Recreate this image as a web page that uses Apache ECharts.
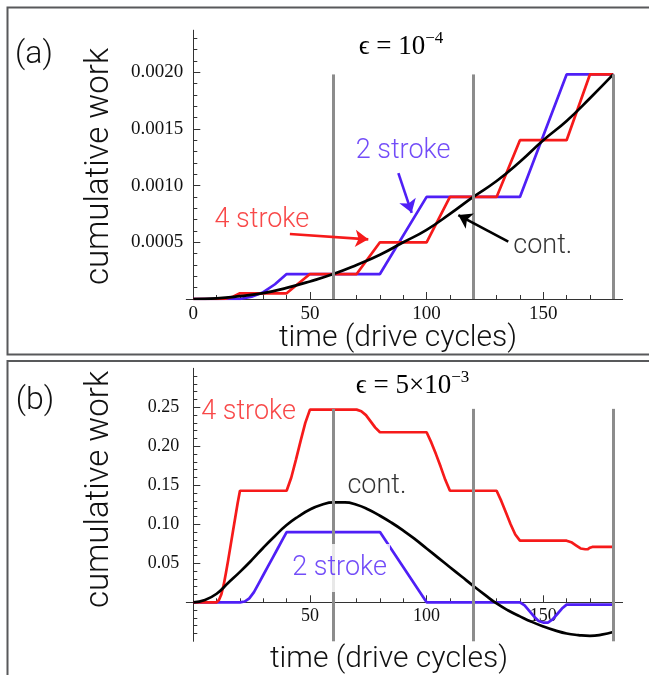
<!DOCTYPE html>
<html><head><meta charset="utf-8">
<script src="https://cdn.jsdelivr.net/npm/echarts@6/dist/echarts.min.js"></script>
<style>html,body{margin:0;padding:0;background:#fff}#c{width:649px;height:675px}</style>
</head><body><div id="c"></div>
<script>
// ---------- data ----------
const xMajorA = [0, 50, 100, 150];
const xMajorB = [50, 100, 150];
const xMinor = [10,20,30,40,60,70,80,90,110,120,130,140,160,170,180];
const yMajorA = [0.0005, 0.001, 0.0015, 0.002];
const yMinorA = [0.0001,0.0002,0.0003,0.0004,0.0006,0.0007,0.0008,0.0009,0.0011,0.0012,0.0013,0.0014,0.0016,0.0017,0.0018,0.0019,0.0021,0.0022,0.0023];
const yMajorB = [0.05, 0.1, 0.15, 0.2, 0.25];
const yMinorB = [-0.04,-0.03,-0.02,-0.01,0.01,0.02,0.03,0.04,0.06,0.07,0.08,0.09,0.11,0.12,0.13,0.14,0.16,0.17,0.18,0.19,0.21,0.22,0.23,0.24,0.26,0.27,0.28,0.29];
const strokeTimes = [60, 120, 180];

// panel (a): epsilon = 1e-4
const contA = [[0,0],[10,0.000006],[20,0.000025],[30,0.000052],[40,0.000098],[50,0.000155],[60,0.00022],[70,0.0003],[80,0.00039],[90,0.0005],[100,0.00061],[110,0.00075],[120,0.0009],[130,0.00104],[140,0.00121],[150,0.0014],[160,0.00157],[170,0.00177],[180,0.00198]];
const stroke2A = [[0,0],[20,0],[25,0.00002],[30,0.00006],[35,0.00013],[40,0.00022],[80,0.00022],[100,0.0009],[140,0.0009],[160,0.00198],[180,0.00198]];
const stroke4A = [[0,0],[10,0],[14,0.000004],[17,0.00002],[20,0.00005],[40,0.00005],[50,0.00022],[70,0.00022],[80,0.0005],[100,0.0005],[110,0.0009],[130,0.0009],[140,0.0014],[160,0.0014],[170,0.00198],[180,0.00198]];

// panel (b): epsilon = 5e-3
const contB = [[0,0],[5,0.003],[10,0.011],[15,0.025],[20,0.039],[25,0.054],[30,0.07],[35,0.085],[40,0.099],[45,0.11],[50,0.119],[55,0.125],[60,0.128],[65,0.128],[70,0.125],[75,0.119],[80,0.111],[85,0.102],[90,0.092],[95,0.081],[100,0.069],[105,0.057],[110,0.045],[115,0.033],[120,0.021],[125,0.0095],[130,-0.0015],[135,-0.0105],[140,-0.018],[145,-0.025],[150,-0.031],[155,-0.036],[160,-0.04],[165,-0.042],[170,-0.043],[175,-0.0415],[180,-0.038]];
const stroke2B = [[0,0],[20,0],[22,0.001],[24,0.005],[26,0.013],[28,0.024],[30,0.035],[32,0.046],[34,0.057],[36,0.068],[38,0.079],[40,0.09],[80,0.09],[100,0],[140,0],[142,-0.004],[144,-0.011],[146,-0.018],[148,-0.024],[150,-0.026],[152,-0.026],[154,-0.022],[156,-0.015],[158,-0.008],[160,-0.003],[180,-0.003]];
const stroke4B = [[0,0],[10,0],[11,0.003],[12,0.01],[13,0.022],[14,0.038],[15,0.055],[16,0.073],[17,0.091],[18,0.109],[19,0.127],[20,0.143],[40,0.143],[42,0.16],[44,0.183],[46,0.207],[48,0.23],[50,0.247],[70,0.247],[72,0.245],[74,0.24],[76,0.232],[78,0.224],[80,0.218],[100,0.218],[102,0.205],[104,0.19],[106,0.174],[108,0.157],[110,0.143],[130,0.143],[132,0.13],[134,0.115],[136,0.1],[138,0.087],[140,0.079],[160,0.079],[162,0.077],[164,0.073],[166,0.069],[168,0.068],[169,0.068],[170,0.07],[171,0.071],[180,0.071]];

// annotation anchors (data coords)
const labelsA = [{name:'2 stroke', at:[89.9,0.0013], color:'blue'},{name:'4 stroke', at:[29.4,0.000697], color:'red'},{name:'cont.', at:[149.8,0.000467], color:'black'}];
const arrowsA = [{from:[87.9,0.00111], to:[93.6,0.00076], color:'blue'},{from:[41.4,0.000573], to:[75,0.000526], color:'red'},{from:[135,0.000505], to:[113.6,0.00074], color:'black'}];
const labelsB = [{name:'4 stroke', at:[23.7,0.2433], color:'red'},{name:'cont.', at:[78.7,0.1491], color:'black'},{name:'2 stroke', at:[62.7,0.044], color:'blue', bg:true}];

// ---------- style ----------
const COL = {blue:'#4f1ff6', red:'#f61a1a', black:'#000000', gray:'#8c8c8c'};
const SANS = "Roboto, 'Liberation Sans', Arial, sans-serif";
const SW = 300;
const SERIF = "'Liberation Serif', 'Times New Roman', 'DejaVu Serif', serif";
const AX = '#333';

function xAxisDef(grid, zeroIdx, ticks, len, labels, fs, margin, hidden) {
  return {
    gridIndex: grid, type: 'value', min: -3, max: 184, position: 'bottom',
    axisLine: {show: !!labels && !hidden, onZero: zeroIdx != null, onZeroAxisIndex: zeroIdx == null ? undefined : zeroIdx, lineStyle: {color: AX, width: 1}},
    axisTick: {show: !hidden, inside: true, length: len, customValues: ticks, lineStyle: {color: AX, width: 1}},
    axisLabel: (labels && !hidden) ? {show: true, customValues: labels, margin: margin, fontFamily: SERIF, fontSize: fs, color: '#111', formatter: v => String(v)} : {show: false},
    splitLine: {show: false}
  };
}
function yAxisDef(grid, zeroIdx, min, max, ticks, len, labels, fs, margin, dec, hidden) {
  return {
    gridIndex: grid, type: 'value', min: min, max: max, position: 'left',
    axisLine: {show: !!labels && !hidden, onZero: zeroIdx != null, onZeroAxisIndex: zeroIdx == null ? undefined : zeroIdx, lineStyle: {color: AX, width: 1}},
    axisTick: {show: !hidden, inside: true, length: len, customValues: ticks, lineStyle: {color: AX, width: 1}},
    axisLabel: (labels && !hidden) ? {show: true, customValues: labels, margin: margin, fontFamily: SERIF, fontSize: fs, color: '#111', formatter: v => v.toFixed(dec)} : {show: false},
    splitLine: {show: false}
  };
}
function curve(name, data, color, xi, z, smooth) {
  return {name, type: 'line', data, xAxisIndex: xi, yAxisIndex: xi, symbol: 'none', smooth: !!smooth,
    lineStyle: {color, width: 2.7}, z, animation: false, silent: true};
}
function marks(xi, y0, y1) {
  return {type: 'line', data: [], xAxisIndex: xi, yAxisIndex: xi, z: 6, silent: true, animation: false,
    markLine: {silent: true, symbol: ['none','none'], label: {show: false}, animation: false,
      lineStyle: {color: COL.gray, width: 3, type: 'solid', opacity: 1},
      data: strokeTimes.map(t => [{coord: [t, y0]}, {coord: [t, y1]}])}};
}
function arrows(xi, list) {
  return list.map(a => ({type: 'line', data: [], xAxisIndex: xi, yAxisIndex: xi, z: 7, silent: true, animation: false,
    markLine: {silent: true, symbol: ['none','arrow'], symbolSize: 13, label: {show: false}, animation: false,
      lineStyle: {color: COL[a.color], width: 2.6, type: 'solid', opacity: 1},
      data: [[{coord: a.from}, {coord: a.to}]]}}));
}
function labels(xi, list) {
  return {type: 'scatter', xAxisIndex: xi, yAxisIndex: xi, symbolSize: 0, z: 10, silent: true, animation: false,
    data: list.map(l => ({name: l.name, value: l.at,
      label: {show: true, position: 'inside', formatter: '{b}', fontFamily: SANS, fontWeight: SW, fontSize: 27, color: COL[l.color],
        backgroundColor: l.bg ? '#fff' : 'transparent', padding: l.bg ? [12, 3, 9, 3] : 0}}))};
}
function txt(x, y, text, size, rot) {
  return {type: 'text', x, y, rotation: rot || 0, silent: true,
    style: {text, fontFamily: SANS, fontWeight: SW, fontSize: size, fill: '#111', align: 'center', verticalAlign: 'middle'}};
}
function title(x, y, main, sup) {
  return {type: 'text', x, y, silent: true, style: {text: '{m|' + main + '}{s|' + sup + '}', fill: '#000', align: 'center', verticalAlign: 'middle',
    rich: {m: {fontFamily: SERIF, fontSize: 27, lineHeight: 33, fill: '#000'}, s: {fontFamily: SERIF, fontSize: 17, lineHeight: 17, verticalAlign: 'top', fill: '#000'}}}};
}

const chart = echarts.init(document.getElementById('c'), null, {renderer: 'canvas'});
const option = {
  animation: false,
  backgroundColor: '#fff',
  grid: [
    {left: 186.3, top: 30.2, width: 436.3, height: 268.8},
    {left: 186.3, top: 368.3, width: 436.3, height: 273},
    {left: 186.3, top: 368.3, width: 436.3, height: 234}
  ],
  xAxis: [
    xAxisDef(0, 0, xMajorA, 7, xMajorA, 19, 6),
    xAxisDef(0, 0, xMinor, 4, null),
    xAxisDef(1, null, xMajorB, 7, null, 18, 4, true),
    xAxisDef(2, null, xMajorB, 7, xMajorB, 18, 5),
    xAxisDef(2, null, xMinor, 4, null)
  ],
  yAxis: [
    yAxisDef(0, 0, 0, 0.00237, yMajorA, 7, yMajorA, 19, 3, 4),
    yAxisDef(0, 0, 0, 0.00237, yMinorA, 4, null),
    yAxisDef(1, 2, -0.05, 0.3, yMajorB, 7, yMajorB, 18, 7, 2),
    yAxisDef(1, 2, -0.05, 0.3, yMinorB, 4, null),
    yAxisDef(2, null, 0, 1, [], 0, null, 0, 0, 0, true)
  ],
  series: [
    curve('2 stroke', stroke2A, COL.blue, 0, 2),
    curve('4 stroke', stroke4A, COL.red, 0, 3),
    curve('cont.', contA, COL.black, 0, 4, true),
    marks(0, 0, 0.00198),
    ...arrows(0, arrowsA),
    labels(0, labelsA),
    curve('2 stroke', stroke2B, COL.blue, 2, 2),
    curve('4 stroke', stroke4B, COL.red, 2, 3),
    curve('cont.', contB, COL.black, 2, 4, true),
    marks(2, -0.05, 0.248),
    labels(2, labelsB)
  ],
  graphic: [
    {type: 'rect', shape: {x: 7.5, y: 7.5, width: 700, height: 347}, style: {fill: 'none', stroke: '#58595b', lineWidth: 2}, silent: true},
    {type: 'rect', shape: {x: 7.5, y: 361, width: 700, height: 400}, style: {fill: 'none', stroke: '#58595b', lineWidth: 2}, silent: true},
    txt(34, 55, '(a)', 32),
    txt(35, 401, '(b)', 32),
    txt(100, 166.5, 'cumulative work', 33, Math.PI/2),
    txt(100, 489.5, 'cumulative work', 33, Math.PI/2),
    txt(398, 338, 'time (drive cycles)', 30),
    txt(389, 659, 'time (drive cycles)', 30),
    title(401, 46.5, 'ϵ = 10', '−4'),
    title(412.5, 386, 'ϵ = 5×10', '−3')
  ]
};
chart.setOption(option);
</script>
</body></html>
